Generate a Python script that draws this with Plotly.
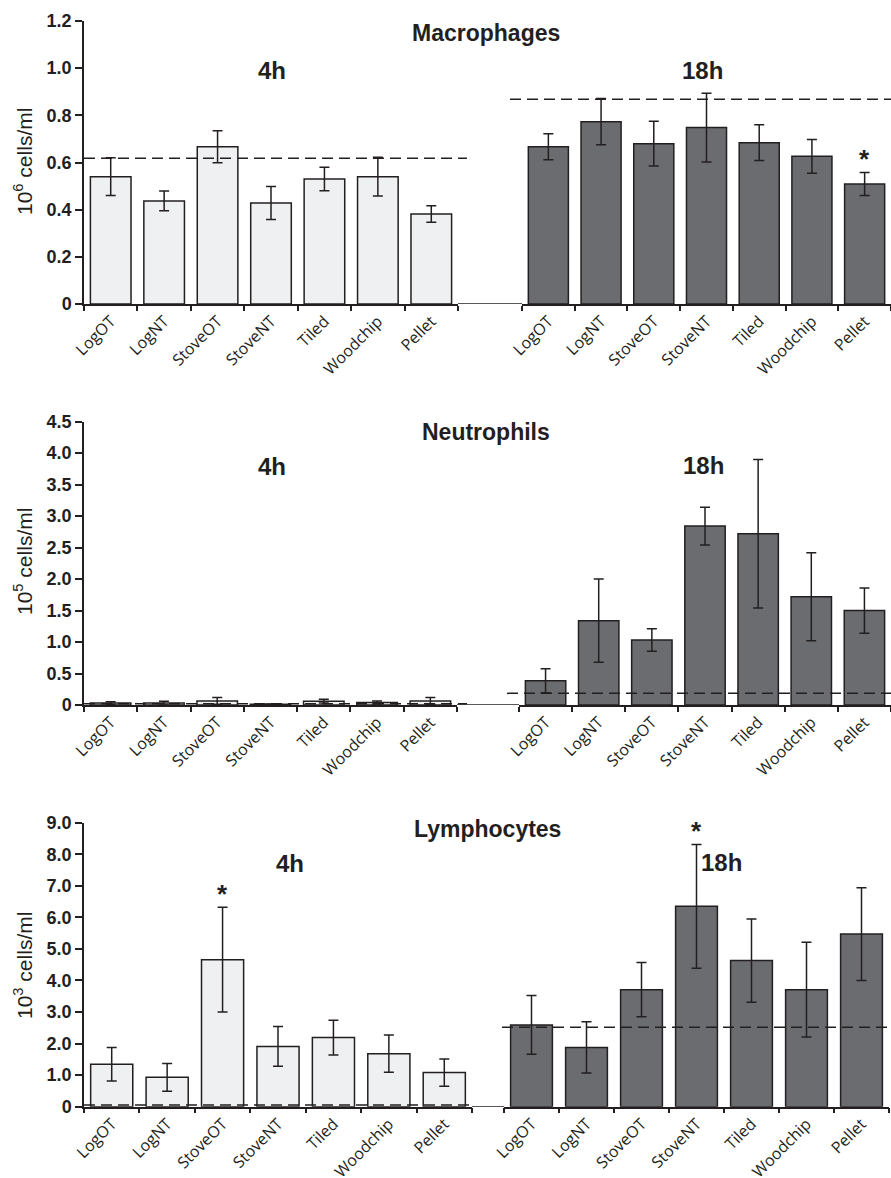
import plotly.graph_objects as go

W, H = 891, 1178

categories = ["LogOT", "LogNT", "StoveOT", "StoveNT", "Tiled", "Woodchip", "Pellet"]

# Macrophages (10^6 cells/ml)
mac_4h = [0.540, 0.437, 0.667, 0.428, 0.530, 0.540, 0.382]
mac_4h_err = [0.080, 0.042, 0.068, 0.070, 0.050, 0.082, 0.035]
mac_18h = [0.667, 0.773, 0.680, 0.748, 0.684, 0.626, 0.509]
mac_18h_err = [0.055, 0.098, 0.095, 0.146, 0.076, 0.072, 0.049]
mac_ctrl = [0.618, 0.868]
mac_sig_4h = []
mac_sig_18h = ["Pellet"]
mac_ticks = [0, 0.2, 0.4, 0.6, 0.8, 1.0, 1.2]
mac_ticklabels = ["0", "0.2", "0.4", "0.6", "0.8", "1.0", "1.2"]

# Neutrophils (10^5 cells/ml)
neu_4h = [0.030, 0.030, 0.065, 0.010, 0.060, 0.040, 0.065]
neu_4h_err = [0.020, 0.030, 0.055, 0.005, 0.030, 0.025, 0.055]
neu_18h = [0.386, 1.340, 1.032, 2.843, 2.720, 1.720, 1.500]
neu_18h_err = [0.190, 0.660, 0.180, 0.300, 1.180, 0.700, 0.360]
neu_ctrl = [0.020, 0.185]
neu_sig_4h = []
neu_sig_18h = []
neu_ticks = [0, 0.5, 1.0, 1.5, 2.0, 2.5, 3.0, 3.5, 4.0, 4.5]
neu_ticklabels = ["0", "0.5", "1.0", "1.5", "2.0", "2.5", "3.0", "3.5", "4.0", "4.5"]

# Lymphocytes (10^3 cells/ml)
lym_4h = [1.343, 0.930, 4.660, 1.910, 2.190, 1.680, 1.080]
lym_4h_err = [0.530, 0.440, 1.660, 0.630, 0.550, 0.590, 0.430]
lym_18h = [2.590, 1.880, 3.710, 6.350, 4.630, 3.710, 5.470]
lym_18h_err = [0.930, 0.810, 0.860, 1.960, 1.320, 1.500, 1.470]
lym_ctrl = [0.050, 2.520]
lym_sig_4h = ["StoveOT"]
lym_sig_18h = ["StoveNT"]
lym_ticks = [0, 1, 2, 3, 4, 5, 6, 7, 8, 9]
lym_ticklabels = ["0", "1.0", "2.0", "3.0", "4.0", "5.0", "6.0", "7.0", "8.0", "9.0"]

titles = ["Macrophages", "Neutrophils", "Lymphocytes"]
ytitles = ["10<sup>6</sup> cells/ml", "10<sup>5</sup> cells/ml", "10<sup>3</sup> cells/ml"]
time_labels = ["4h", "18h"]

# ---- layout geometry (pixels) ----
def px(x):
    return x / W

def py(y):
    return 1 - y / H

panels = [
    dict(top=21, bottom=304, lx=(84, 458), rx=(522, 891),
         data=(mac_4h, mac_4h_err, mac_18h, mac_18h_err), ctrl=mac_ctrl,
         sig=(mac_sig_4h, mac_sig_18h), ticks=mac_ticks, ticklabels=mac_ticklabels,
         title_pos=(486, 33), t4=(272, 70), t18=(702, 70), ytitle_y=162,
         dash_l=(84, 467), dash_r=(510, 891)),
    dict(top=421.7, bottom=705, lx=(84, 457), rx=(519, 891),
         data=(neu_4h, neu_4h_err, neu_18h, neu_18h_err), ctrl=neu_ctrl,
         sig=(neu_sig_4h, neu_sig_18h), ticks=neu_ticks, ticklabels=neu_ticklabels,
         title_pos=(486, 432), t4=(272, 466), t18=(703, 465), ytitle_y=562,
         dash_l=(84, 467), dash_r=(507, 891)),
    dict(top=822.7, bottom=1106.7, lx=(84, 472), rx=(504, 889),
         data=(lym_4h, lym_4h_err, lym_18h, lym_18h_err), ctrl=lym_ctrl,
         sig=(lym_sig_4h, lym_sig_18h), ticks=lym_ticks, ticklabels=lym_ticklabels,
         title_pos=(488, 829), t4=(290, 863), t18=(721, 862), ytitle_y=966,
         dash_l=(84, 474), dash_r=(502, 891)),
]

INK = "#231f20"
LIGHT = "#eff0f1"
DARK = "#6b6c70"
colors = [LIGHT, DARK]

fig = go.Figure()
layout = dict(
    width=W, height=H, margin=dict(l=0, r=0, t=0, b=0),
    paper_bgcolor="white", plot_bgcolor="white", showlegend=False,
    bargap=0.24, template="none",
)
shapes = []
annotations = []

for p_i, p in enumerate(panels):
    yname = "yaxis" if p_i == 0 else f"yaxis{p_i + 1}"
    yref = "y" if p_i == 0 else f"y{p_i + 1}"
    ymax = p["ticks"][-1]
    layout[yname] = dict(
        domain=[py(p["bottom"]), py(p["top"])], range=[0, ymax],
        tickvals=p["ticks"], ticktext=p["ticklabels"],
        showline=True, linecolor=INK, linewidth=1.5,
        ticks="outside", ticklen=7, tickwidth=1.5, tickcolor=INK,
        tickfont=dict(family="Liberation Sans, Arial", size=18, color=INK, weight="bold"),
        showgrid=False, zeroline=False, anchor=f"x{2 * p_i + 1}" if p_i > 0 else "x",
    )
    vals4, err4, vals18, err18 = p["data"]
    for t_i, (xr, vals, errs) in enumerate([(p["lx"], vals4, err4), (p["rx"], vals18, err18)]):
        ax_n = 2 * p_i + t_i + 1
        xname = "xaxis" if ax_n == 1 else f"xaxis{ax_n}"
        xref = "x" if ax_n == 1 else f"x{ax_n}"
        layout[xname] = dict(
            domain=[px(xr[0]), px(xr[1])], anchor=yref, type="category",
            categoryorder="array", categoryarray=categories,
            showline=True, linecolor=INK, linewidth=1.5,
            ticks="outside", tickson="boundaries", ticklen=5, tickwidth=1.5, tickcolor=INK,
            tickangle=-45, tickfont=dict(family="Open Sans", size=16, color=INK),
            showgrid=False, zeroline=False,
        )
        fig.add_trace(go.Bar(
            x=categories, y=vals, xaxis=xref, yaxis=yref,
            marker=dict(color=colors[t_i], line=dict(color=INK, width=1.5)),
            error_y=dict(type="data", array=errs, color=INK, thickness=1.5, width=5),
        ))
        # significance stars
        for cat in p["sig"][t_i]:
            k = categories.index(cat)
            annotations.append(dict(
                x=cat, y=vals[k] + errs[k], xref=xref, yref=yref, text="*",
                showarrow=False, yanchor="bottom", yshift=-4,
                font=dict(family="Liberation Sans, Arial", size=26, color=INK, weight="bold"),
            ))
        # control dashed line
        d = p["dash_l"] if t_i == 0 else p["dash_r"]
        shapes.append(dict(
            type="line", xref="paper", yref=yref, x0=px(d[0]), x1=px(d[1]),
            y0=p["ctrl"][t_i], y1=p["ctrl"][t_i],
            line=dict(color=INK, width=1.5, dash="11px,6px"), layer="above",
        ))
    # baseline connecting the two halves
    shapes.append(dict(
        type="line", xref="paper", yref=yref, x0=px(p["lx"][1]), x1=px(p["rx"][0]),
        y0=0, y1=0, line=dict(color=INK, width=1.5),
    ))
    # titles
    annotations.append(dict(
        x=px(p["title_pos"][0]), y=py(p["title_pos"][1]), xref="paper", yref="paper",
        text=titles[p_i], showarrow=False, xanchor="center", yanchor="middle",
        font=dict(family="Liberation Sans, Arial", size=23, color=INK, weight="bold"),
    ))
    for lbl, pos in zip(time_labels, [p["t4"], p["t18"]]):
        annotations.append(dict(
            x=px(pos[0]), y=py(pos[1]), xref="paper", yref="paper",
            text=lbl, showarrow=False, xanchor="center", yanchor="middle",
            font=dict(family="Liberation Sans, Arial", size=24, color=INK, weight="bold"),
        ))
    annotations.append(dict(
        x=px(23), y=py(p["ytitle_y"]), xref="paper", yref="paper",
        text=ytitles[p_i], showarrow=False, textangle=-90,
        xanchor="center", yanchor="middle",
        font=dict(family="Liberation Sans, Arial", size=21, color=INK),
    ))

layout["shapes"] = shapes
layout["annotations"] = annotations
fig.update_layout(**layout)
fig.write_html("out.html")
